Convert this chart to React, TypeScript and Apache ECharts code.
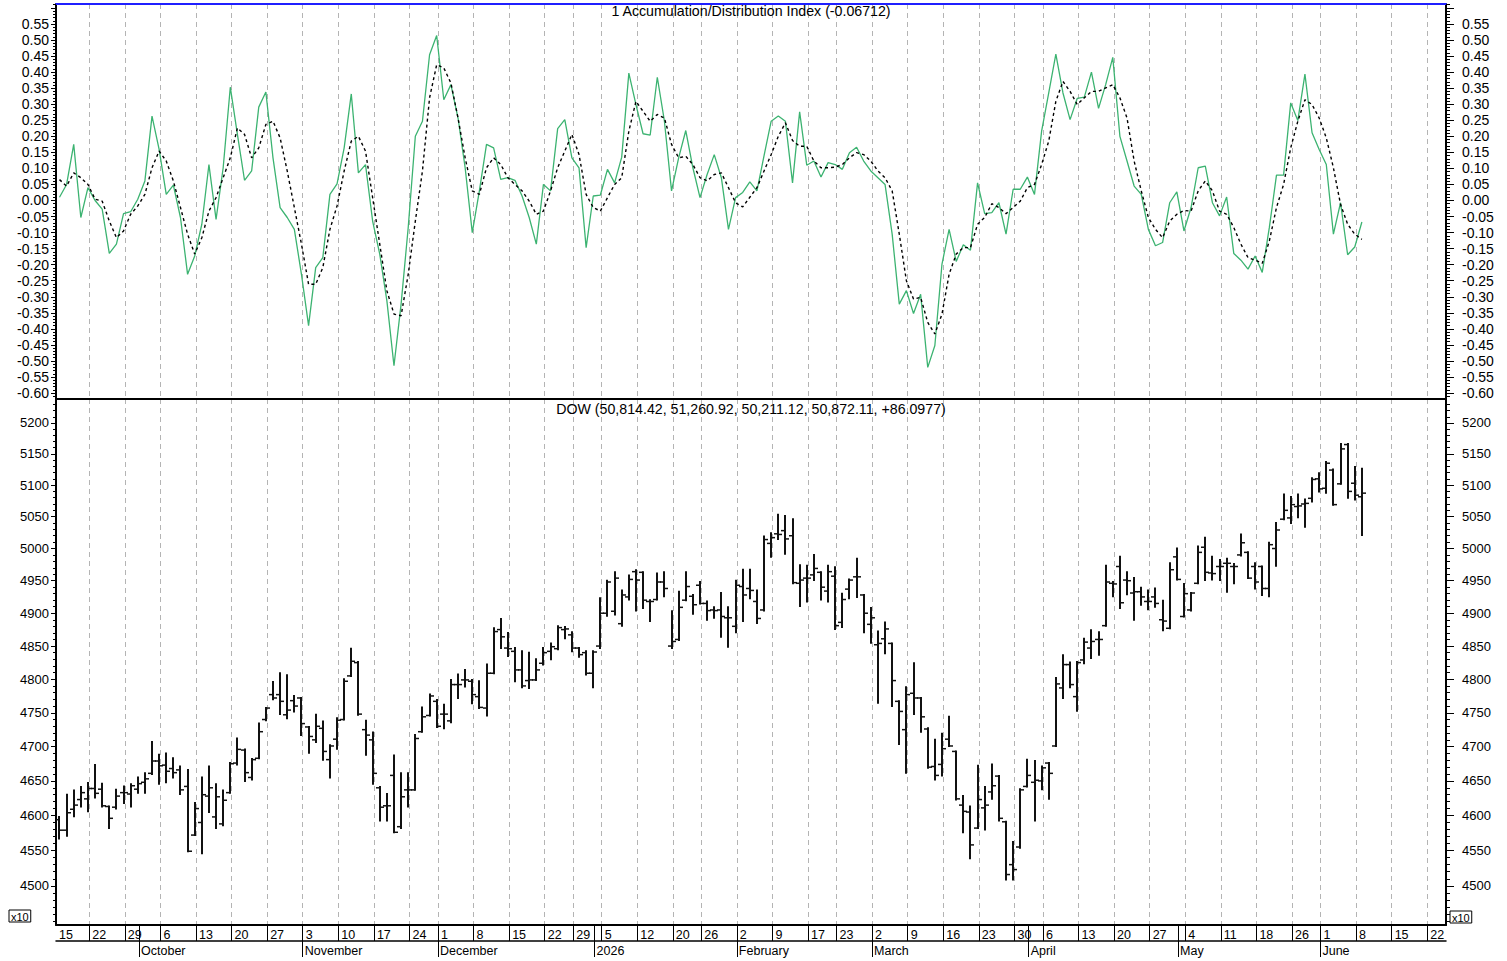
import React, { useEffect, useRef } from 'react';
import * as echarts from 'echarts';

// ---------- axis layout helpers (trading-day index space) ----------
const X_MIN = -0.49;
const X_MAX = 194.82;
const GRID_SHIFT = 0.82; // week separators sit a bit before the Monday bar

// ---------- categories ----------
const weekStartIdx = [0, 5, 10, 15, 20, 25, 30, 35, 40, 45, 50, 54, 59, 64, 69, 73, 77, 82, 87, 91, 96, 101, 106, 110, 115, 120, 125, 130, 135, 139, 144, 149, 154, 159, 164, 169, 174, 178, 183, 188, 193];
const weekLabels = ['15', '22', '29', '6', '13', '20', '27', '3', '10', '17', '24', '1', '8', '15', '22', '29', '5', '12', '20', '26', '2', '9', '17', '23', '2', '9', '16', '23', '30', '6', '13', '20', '27', '4', '11', '18', '26', '1', '8', '15', '22'];
const monthStartIdx = [12, 35, 54, 76, 96, 115, 137, 158, 178];
const monthLabels = ['October', 'November', 'December', '2026', 'February', 'March', 'April', 'May', 'June'];

// ---------- tick labels ----------
const adTickLabels = [-0.6, -0.55, -0.5, -0.45, -0.4, -0.35, -0.3, -0.25, -0.2, -0.15, -0.1, -0.05, 0, 0.05, 0.1, 0.15, 0.2, 0.25, 0.3, 0.35, 0.4, 0.45, 0.5, 0.55];
const adMajorTicks = [-0.6, -0.55, -0.5, -0.45, -0.4, -0.35, -0.3, -0.25, -0.2, -0.15, -0.1, -0.05, 0, 0.05, 0.1, 0.15, 0.2, 0.25, 0.3, 0.35, 0.4, 0.45, 0.5, 0.55, 0.6];
const priceTickLabels = [4500, 4550, 4600, 4650, 4700, 4750, 4800, 4850, 4900, 4950, 5000, 5050, 5100, 5150, 5200];

const AD_MIN = -0.6186;
const AD_MAX = 0.6123;
const P_MIN = 4445.4;
const P_MAX = 5239;

// ---------- DOW (x10) daily OHLC ----------
const dowOpen = [
  4594, 4579, 4609, 4623, 4624, 4639, 4638, 4613, 4612, 4633,
  4631, 4638, 4648, 4661, 4679, 4673, 4668, 4666, 4642, 4572,
  4590, 4628, 4598, 4588, 4633, 4676, 4695, 4655, 4683, 4740,
  4777, 4777, 4747, 4768, 4772, 4729, 4710, 4727, 4681, 4711,
  4740, 4805, 4825, 4725, 4710, 4640, 4614, 4658, 4584, 4637,
  4637, 4722, 4746, 4767, 4748, 4738, 4792, 4799, 4797, 4774,
  4757, 4809, 4875, 4847, 4842, 4814, 4798, 4799, 4824, 4842,
  4846, 4875, 4867, 4847, 4840, 4809, 4850, 4900, 4903, 4884,
  4925, 4964, 4963, 4918, 4921, 4948, 4850, 4860, 4920, 4926,
  4943, 4915, 4905, 4905, 4893, 4880, 4941, 4938, 4918, 4905,
  5008, 5023, 5028, 5020, 4946, 4954, 4959, 4963, 4934, 4957,
  4886, 4937, 4956, 4928, 4883, 4852, 4861, 4854, 4767, 4725,
  4779, 4772, 4726, 4671, 4674, 4711, 4693, 4615, 4605, 4582,
  4611, 4634, 4657, 4591, 4530, 4555, 4642, 4648, 4650, 4676,
  4701, 4787, 4822, 4774, 4829, 4847, 4860, 4881, 4946, 4972,
  4951, 4931, 4933, 4918, 4925, 4890, 4877, 4987, 4895, 4905,
  4946, 5002, 4962, 4972, 4977, 4972, 4990, 4994, 4972, 4972,
  4938, 5000, 5046, 5048, 5066, 5070, 5079, 5110, 5095, 5124,
  5102, 5165, 5103, 5081.44
];
const dowHigh = [
  4598, 4630, 4636, 4641, 4647, 4673, 4646, 4613, 4637, 4642,
  4645, 4655, 4661, 4707, 4688, 4690, 4683, 4671, 4666, 4618,
  4655, 4671, 4645, 4636, 4676, 4712, 4696, 4682, 4734, 4757,
  4796, 4809, 4806, 4775, 4772, 4729, 4747, 4737, 4702, 4742,
  4800, 4846, 4826, 4738, 4721, 4641, 4631, 4687, 4661, 4661,
  4717, 4758, 4777, 4769, 4762, 4799, 4807, 4814, 4799, 4797,
  4822, 4877, 4891, 4870, 4847, 4842, 4840, 4830, 4847, 4854,
  4880, 4879, 4871, 4847, 4842, 4842, 4923, 4950, 4963, 4935,
  4958, 4966, 4963, 4920, 4961, 4963, 4903, 4933, 4963, 4928,
  4948, 4918, 4909, 4931, 4909, 4950, 4967, 4967, 4935, 5019,
  5024, 5053, 5051, 5046, 4974, 4973, 4990, 4963, 4973, 4971,
  4930, 4952, 4984, 4928, 4908, 4872, 4886, 4854, 4767, 4788,
  4824, 4772, 4727, 4710, 4719, 4744, 4693, 4628, 4613, 4672,
  4641, 4674, 4657, 4591, 4562, 4638, 4681, 4679, 4671, 4676,
  4802, 4836, 4825, 4826, 4861, 4874, 4871, 4973, 4948, 4987,
  4963, 4954, 4939, 4935, 4938, 4919, 4977, 5000, 4945, 4931,
  5003, 5017, 4987, 4982, 4984, 4976, 5022, 4994, 4977, 4972,
  5009, 5040, 5085, 5081, 5085, 5077, 5111, 5119, 5137, 5125,
  5166, 5166, 5129, 5126.09
];
const dowLow = [
  4567, 4571, 4599, 4613, 4606, 4626, 4613, 4582, 4610, 4618,
  4613, 4633, 4633, 4660, 4646, 4648, 4655, 4631, 4549, 4572,
  4546, 4605, 4582, 4586, 4633, 4674, 4650, 4652, 4683, 4739,
  4770, 4748, 4742, 4752, 4717, 4691, 4707, 4681, 4655, 4697,
  4740, 4805, 4747, 4688, 4646, 4593, 4593, 4576, 4582, 4613,
  4637, 4722, 4746, 4729, 4727, 4736, 4772, 4789, 4764, 4757,
  4746, 4809, 4847, 4835, 4797, 4788, 4787, 4799, 4822, 4830,
  4845, 4862, 4842, 4834, 4807, 4788, 4847, 4896, 4898, 4881,
  4921, 4904, 4908, 4888, 4921, 4926, 4847, 4859, 4920, 4899,
  4915, 4890, 4893, 4864, 4849, 4871, 4888, 4923, 4885, 4904,
  4987, 5015, 4992, 4946, 4911, 4918, 4951, 4921, 4918, 4876,
  4879, 4923, 4925, 4871, 4855, 4765, 4839, 4760, 4704, 4662,
  4748, 4722, 4669, 4652, 4658, 4701, 4623, 4576, 4539, 4582,
  4580, 4624, 4593, 4509, 4509, 4554, 4642, 4593, 4638, 4624,
  4701, 4772, 4788, 4753, 4824, 4832, 4837, 4881, 4926, 4908,
  4929, 4890, 4913, 4906, 4910, 4874, 4877, 4952, 4895, 4904,
  4946, 4951, 4952, 4951, 4933, 4946, 4989, 4954, 4938, 4928,
  4926, 4973, 5046, 5040, 5049, 5034, 5074, 5090, 5088, 5069,
  5102, 5080, 5077, 5021.11
];
const dowClose = [
  4579, 4604, 4615, 4633, 4639, 4632, 4614, 4596, 4628, 4633,
  4643, 4646, 4653, 4679, 4672, 4664, 4662, 4637, 4549, 4610,
  4630, 4640, 4627, 4622, 4675, 4696, 4662, 4681, 4722, 4757,
  4772, 4767, 4754, 4760, 4734, 4715, 4730, 4693, 4701, 4739,
  4797, 4827, 4748, 4717, 4661, 4612, 4614, 4576, 4627, 4637,
  4712, 4744, 4775, 4730, 4748, 4792, 4792, 4799, 4777, 4758,
  4809, 4872, 4864, 4846, 4814, 4790, 4799, 4814, 4840, 4849,
  4878, 4876, 4847, 4837, 4809, 4841, 4900, 4948, 4954, 4928,
  4952, 4951, 4920, 4918, 4948, 4938, 4857, 4909, 4941, 4913,
  4915, 4904, 4904, 4895, 4893, 4943, 4928, 4935, 4892, 5014,
  5017, 5022, 5015, 4947, 4951, 4954, 4969, 4940, 4964, 4881,
  4921, 4951, 4956, 4900, 4893, 4854, 4876, 4798, 4752, 4777,
  4772, 4744, 4670, 4658, 4697, 4701, 4624, 4606, 4558, 4623,
  4615, 4643, 4596, 4516, 4523, 4637, 4658, 4651, 4669, 4661,
  4793, 4822, 4792, 4825, 4856, 4857, 4860, 4948, 4945, 4916,
  4950, 4933, 4925, 4918, 4915, 4888, 4967, 4952, 4930, 4931,
  4994, 4963, 4961, 4972, 4977, 4972, 5009, 4954, 4948, 4938,
  5006, 5029, 5060, 5069, 5067, 5071, 5109, 5094, 5135, 5069,
  5158, 5090, 5084, 5087.21
];

// ---------- Accumulation/Distribution oscillator ----------
const adIndex = [
  0.010, 0.050, 0.175, -0.053, 0.040, 0.000, -0.027, -0.165, -0.136, -0.041,
  -0.035, 0.004, 0.061, 0.263, 0.159, 0.019, 0.048, -0.053, -0.230, -0.173,
  -0.074, 0.112, -0.059, 0.102, 0.353, 0.206, 0.063, 0.092, 0.291, 0.338,
  0.133, -0.022, -0.053, -0.090, -0.230, -0.390, -0.209, -0.178, 0.019, 0.052,
  0.164, 0.332, 0.086, 0.112, -0.064, -0.167, -0.312, -0.515, -0.323, -0.084,
  0.200, 0.247, 0.454, 0.514, 0.314, 0.361, 0.257, 0.102, -0.100, 0.030,
  0.175, 0.164, 0.066, 0.071, 0.063, 0.014, -0.053, -0.136, 0.050, 0.030,
  0.224, 0.252, 0.133, 0.102, -0.147, 0.014, 0.017, 0.097, 0.055, 0.135,
  0.397, 0.299, 0.208, 0.204, 0.384, 0.247, 0.030, 0.133, 0.218, 0.102,
  0.009, 0.081, 0.143, 0.071, -0.090, 0.009, 0.025, 0.058, 0.030, 0.140,
  0.247, 0.263, 0.247, 0.055, 0.276, 0.110, 0.123, 0.073, 0.118, 0.112,
  0.097, 0.149, 0.166, 0.123, 0.092, 0.071, 0.050, -0.105, -0.323, -0.281,
  -0.352, -0.292, -0.520, -0.452, -0.198, -0.090, -0.190, -0.138, -0.155, 0.055,
  -0.041, -0.038, -0.007, -0.105, 0.035, 0.035, 0.073, 0.019, 0.216, 0.335,
  0.456, 0.335, 0.252, 0.318, 0.322, 0.400, 0.287, 0.361, 0.446, 0.200,
  0.123, 0.045, 0.019, -0.090, -0.141, -0.131, -0.007, 0.027, -0.095, -0.022,
  0.102, 0.107, -0.007, -0.048, 0.011, -0.165, -0.186, -0.214, -0.173, -0.224,
  -0.084, 0.079, 0.079, 0.304, 0.249, 0.394, 0.211, 0.159, 0.112, -0.105,
  -0.007, -0.169, -0.145, -0.067
];
const adSignal = [
  0.065, 0.045, 0.086, 0.071, 0.050, 0.004, -0.002, -0.064, -0.116, -0.095,
  -0.043, -0.017, 0.019, 0.102, 0.154, 0.123, 0.061, -0.022, -0.105, -0.167,
  -0.116, -0.033, 0.009, 0.071, 0.133, 0.226, 0.206, 0.133, 0.164, 0.237,
  0.247, 0.195, 0.092, -0.022, -0.136, -0.261, -0.261, -0.209, -0.090, -0.017,
  0.092, 0.185, 0.200, 0.154, 0.009, -0.136, -0.281, -0.354, -0.359, -0.230,
  -0.064, 0.092, 0.320, 0.423, 0.413, 0.366, 0.257, 0.133, 0.030, 0.019,
  0.102, 0.133, 0.112, 0.071, 0.050, 0.030, -0.002, -0.043, -0.033, 0.030,
  0.102, 0.154, 0.206, 0.143, 0.019, -0.022, -0.033, 0.009, 0.050, 0.071,
  0.216, 0.309, 0.278, 0.247, 0.268, 0.257, 0.175, 0.133, 0.138, 0.112,
  0.071, 0.061, 0.081, 0.086, 0.040, -0.007, -0.020, 0.010, 0.040, 0.092,
  0.143, 0.200, 0.242, 0.187, 0.169, 0.169, 0.123, 0.102, 0.102, 0.104,
  0.112, 0.133, 0.149, 0.143, 0.123, 0.092, 0.071, 0.030, -0.105, -0.250,
  -0.307, -0.302, -0.380, -0.416, -0.354, -0.230, -0.167, -0.147, -0.147, -0.074,
  -0.053, -0.010, -0.022, -0.041, -0.022, -0.002, 0.040, 0.050, 0.112, 0.185,
  0.309, 0.371, 0.340, 0.299, 0.320, 0.340, 0.340, 0.351, 0.361, 0.320,
  0.257, 0.123, 0.030, -0.053, -0.090, -0.116, -0.064, -0.043, -0.031, -0.033,
  0.030, 0.061, 0.030, -0.033, -0.043, -0.084, -0.136, -0.178, -0.186, -0.196,
  -0.126, -0.022, 0.050, 0.164, 0.247, 0.314, 0.299, 0.257, 0.195, 0.102,
  -0.012, -0.074, -0.105, -0.121
];

const FONT = '"Liberation Sans", Arial, Helvetica, sans-serif';

function buildOption() {
  const ohlc = dowOpen.map((o, i) => [i, o, dowHigh[i], dowLow[i], dowClose[i]]);
  const adLine = adIndex.map((v, i) => [i, v]);
  const sigLine = adSignal.map((v, i) => [i, v]);

  const weekPos = weekStartIdx.map((w) => w - GRID_SHIFT);
  const weekLabelPos = weekPos.map((v) => Math.max(v, X_MIN + 0.001));
  const monthPos = monthStartIdx.map((m) => m - GRID_SHIFT);

  const adMinor: number[] = [];
  for (let k = -61; k <= 61; k++) adMinor.push(k / 100);
  const priceMinor: number[] = [];
  for (let p = 4450; p <= 5230; p += 10) priceMinor.push(p);

  const weekFmt = (v: number) => {
    const idx = Math.round(v + GRID_SHIFT);
    const k = weekStartIdx.indexOf(idx);
    return k >= 0 ? weekLabels[k] : '';
  };
  const monthFmt = (v: number) => {
    const idx = Math.round(v + GRID_SHIFT);
    const k = monthStartIdx.indexOf(idx);
    return k >= 0 ? monthLabels[k] : '';
  };

  const axisBlack = { color: '#000', width: 2 };
  const labelStyle = { fontFamily: FONT, color: '#000' };

  const yAx = (
    gridIndex: number,
    type: string,
    min: number,
    max: number,
    position: string,
    ticks: number[],
    len: number,
    showLine: boolean,
    labels: number[] | null,
    fmt: (v: number) => string,
    margin: number,
    fontSize: number
  ) => ({
    gridIndex,
    type,
    min,
    max,
    position,
    axisLine: { show: showLine, onZero: false, lineStyle: axisBlack },
    axisTick: { show: true, customValues: ticks, length: len, lineStyle: { color: '#000', width: 1 } },
    axisLabel: labels
      ? { show: true, customValues: labels, formatter: fmt, margin, ...labelStyle, fontSize }
      : { show: false },
    splitLine: { show: false },
    minorTick: { show: false },
  });

  const adFmt = (v: number) => v.toFixed(2);
  const pFmt = (v: number) => String(Math.round(v));

  return {
    animation: false,
    textStyle: { fontFamily: FONT },
    grid: [
      { left: 56, right: 61, top: 4, height: 395 },
      { left: 56, right: 61, top: 399, height: 526 },
    ],
    xAxis: [
      {
        gridIndex: 0, type: 'value', min: X_MIN, max: X_MAX, position: 'bottom',
        axisLine: { show: true, onZero: false, lineStyle: axisBlack },
        axisTick: { show: false, customValues: weekPos },
        axisLabel: { show: false },
        splitLine: { show: true, lineStyle: { color: '#b4b4b4', width: 1, type: [5, 4] } },
      },
      {
        gridIndex: 0, type: 'value', min: X_MIN, max: X_MAX, position: 'top',
        axisLine: { show: true, onZero: false, lineStyle: { color: '#1f1fff', width: 2 } },
        axisTick: { show: false },
        axisLabel: { show: false },
        splitLine: { show: false },
      },
      {
        gridIndex: 1, type: 'value', min: X_MIN, max: X_MAX, position: 'bottom',
        axisLine: { show: true, onZero: false, lineStyle: axisBlack },
        axisTick: { show: true, customValues: weekPos.concat(monthPos), length: 16, lineStyle: { color: '#000', width: 1 } },
        axisLabel: { show: true, customValues: weekLabelPos, formatter: weekFmt, align: 'left', padding: [0, 0, 0, 3], margin: 3, ...labelStyle, fontSize: 12.5 },
        splitLine: { show: false },
      },
      {
        gridIndex: 1, type: 'value', min: X_MIN, max: X_MAX, position: 'bottom', offset: 16,
        axisLine: { show: true, onZero: false, lineStyle: { color: '#000', width: 1.5 } },
        axisTick: { show: true, customValues: monthPos, length: 16, lineStyle: { color: '#000', width: 1 } },
        axisLabel: { show: true, customValues: monthPos, formatter: monthFmt, align: 'left', padding: [0, 0, 0, 2], margin: 3, ...labelStyle, fontSize: 12.5 },
        splitLine: { show: false },
      },
      {
        gridIndex: 1, type: 'value', min: X_MIN, max: X_MAX, position: 'bottom',
        axisLine: { show: false, onZero: false },
        axisTick: { show: false, customValues: weekPos },
        axisLabel: { show: false },
        splitLine: { show: true, lineStyle: { color: '#b4b4b4', width: 1, type: [5, 4] } },
      },
    ],
    yAxis: [
      yAx(0, 'value', AD_MIN, AD_MAX, 'left', adMajorTicks, 5, true, adTickLabels, adFmt, 7, 14),
      yAx(0, 'value', AD_MIN, AD_MAX, 'left', adMinor, 3, false, null, adFmt, 7, 14),
      yAx(0, 'value', AD_MIN, AD_MAX, 'right', adMajorTicks, 8, true, adTickLabels, adFmt, 16, 14),
      yAx(0, 'value', AD_MIN, AD_MAX, 'right', adMinor, 4, false, null, adFmt, 16, 14),
      yAx(1, 'log', P_MIN, P_MAX, 'left', priceTickLabels, 5, true, priceTickLabels, pFmt, 7, 13),
      yAx(1, 'log', P_MIN, P_MAX, 'left', priceMinor, 3, false, null, pFmt, 7, 13),
      yAx(1, 'log', P_MIN, P_MAX, 'right', priceTickLabels, 8, true, priceTickLabels, pFmt, 16, 13),
      yAx(1, 'log', P_MIN, P_MAX, 'right', priceMinor, 4, false, null, pFmt, 16, 13),
    ],
    series: [
      {
        name: 'A/D', type: 'line', xAxisIndex: 0, yAxisIndex: 0, data: adLine,
        showSymbol: false, symbol: 'none', z: 3, clip: true,
        lineStyle: { color: '#3cb371', width: 1.3 },
      },
      {
        name: 'Signal', type: 'line', xAxisIndex: 0, yAxisIndex: 0, data: sigLine,
        showSymbol: false, symbol: 'none', z: 4, clip: true,
        lineStyle: { color: '#000', width: 1.4, type: [3, 3] },
      },
      {
        name: 'DOW', type: 'custom', xAxisIndex: 2, yAxisIndex: 4, data: ohlc, clip: true,
        encode: { x: 0, y: [1, 2, 3, 4] },
        renderItem: (params: any, api: any) => {
          const i = api.value(0);
          const o = api.coord([i, api.value(1)]);
          const h = api.coord([i, api.value(2)]);
          const l = api.coord([i, api.value(3)]);
          const c = api.coord([i, api.value(4)]);
          const x = Math.round(h[0]);
          const st = { stroke: '#111', lineWidth: 2 };
          const tk = { stroke: '#111', lineWidth: 1.5 };
          return {
            type: 'group',
            children: [
              { type: 'line', shape: { x1: x, y1: h[1] - 1, x2: x, y2: l[1] + 1 }, style: st },
              { type: 'line', shape: { x1: x - 4, y1: o[1], x2: x, y2: o[1] }, style: tk },
              { type: 'line', shape: { x1: x, y1: c[1], x2: x + 4, y2: c[1] }, style: tk },
            ],
          };
        },
      },
    ],
    graphic: [
      {
        type: 'text', x: 751, y: 4, z: 10,
        style: { text: '1 Accumulation/Distribution Index (-0.06712)', font: `14.2px ${FONT}`, fill: '#000', textAlign: 'center', align: 'center', textVerticalAlign: 'top', verticalAlign: 'top' },
      },
      {
        type: 'text', x: 751, y: 402, z: 10,
        style: { text: 'DOW (50,814.42, 51,260.92, 50,211.12, 50,872.11, +86.0977)', font: `14.2px ${FONT}`, fill: '#000', textAlign: 'center', align: 'center', textVerticalAlign: 'top', verticalAlign: 'top' },
      },
      {
        type: 'text', x: 9, y: 910, z: 10,
        style: { text: 'x10', font: `11px ${FONT}`, fill: '#000', borderColor: '#000', borderWidth: 1, padding: [1, 2, 0, 2], textVerticalAlign: 'top', verticalAlign: 'top' },
      },
      {
        type: 'text', x: 1450, y: 911, z: 10,
        style: { text: 'x10', font: `11px ${FONT}`, fill: '#000', borderColor: '#000', borderWidth: 1, padding: [1, 2, 0, 2], textVerticalAlign: 'top', verticalAlign: 'top' },
      },
    ],
  };
}

export default function App() {
  const ref = useRef<HTMLDivElement>(null);
  useEffect(() => {
    if (!ref.current) return;
    const chart = echarts.init(ref.current, null, { renderer: 'svg' });
    chart.setOption(buildOption() as any);
    return () => chart.dispose();
  }, []);
  return (
    <div
      ref={ref}
      style={{ position: 'absolute', left: 0, top: 0, width: 1507, height: 961, background: '#fff' }}
    />
  );
}
